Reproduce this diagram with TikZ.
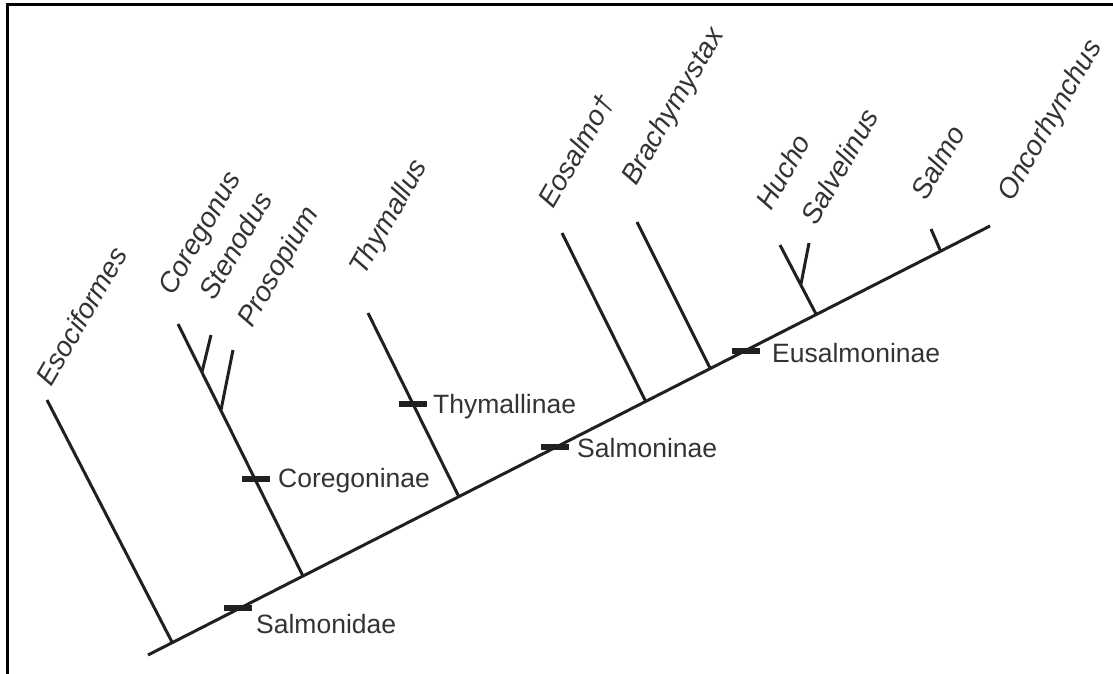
\documentclass[tikz,border=0pt]{standalone}
\usepackage{fontspec}
\setmainfont{Liberation Sans}
\definecolor{ink}{HTML}{231F20}
\definecolor{lbl}{HTML}{333333}
\tikzset{
  frame/.style={draw=black,line width=3pt},
  branch/.style={draw=ink,line width=3pt},
  cladetick/.style={draw=ink,line width=5.5pt},
  taxon/.style={font=\fontsize{28}{32}\selectfont\itshape,text=lbl,rotate=60,anchor=base west,inner sep=0pt},
  clade/.style={font=\fontsize{26.5}{30}\selectfont,text=lbl,anchor=base west,inner sep=0pt}
}

\begin{document}
\begin{tikzpicture}[x=1pt,y=-1pt]
    \useasboundingbox (0,0) rectangle (1113,674);
    \draw[frame] (7,674) -- (7,5) -- (1113,5);

    % backbone
    \coordinate (root) at (148,655);
    \coordinate (apex) at (990,226);
    \draw[branch] (root) -- (apex);

    % junctions and tips
    \coordinate (esoJ) at (172,642);  \coordinate (esoT) at (47,400);
    \coordinate (corJ) at (303,576);  \coordinate (corT) at (178,324);
    \coordinate (steJ) at (202,372);  \coordinate (steT) at (211,335);
    \coordinate (proJ) at (221,410);  \coordinate (proT) at (233,350);
    \coordinate (thyJ) at (459,497);  \coordinate (thyT) at (368,313);
    \coordinate (eosJ) at (646,402);  \coordinate (eosT) at (562,233);
    \coordinate (braJ) at (710,368);  \coordinate (braT) at (637,222);
    \coordinate (hucJ) at (816,314);  \coordinate (hucT) at (780,245);
    \coordinate (salJ) at (801,284);  \coordinate (salT) at (809,243);
    \coordinate (smoJ) at (941,252);  \coordinate (smoT) at (931,229);

    \draw[branch] (esoJ) -- (esoT);
    \draw[branch] (corJ) -- (corT);
    \draw[branch] (steJ) -- (steT);
    \draw[branch] (proJ) -- (proT);
    \draw[branch] (thyJ) -- (thyT);
    \draw[branch] (eosJ) -- (eosT);
    \draw[branch] (braJ) -- (braT);
    \draw[branch] (hucJ) -- (hucT);
    \draw[branch] (salJ) -- (salT);
    \draw[branch] (smoJ) -- (smoT);

    % clade ticks
    \foreach \n/\x/\y in {salmonidae/238/608,coregoninae/256/479,thymallinae/413/404,salmoninae/555/447,eusalmoninae/746/351} {
      \coordinate (\n) at (\x,\y);
      \draw[cladetick] ([xshift=-14pt]\n) -- ([xshift=14pt]\n);
    }

    \node[clade] (lSalmonidae) at (256,633) {Salmonidae};
    \node[clade] (lCoregoninae) at (278,487) {Coregoninae};
    \node[clade] (lThymallinae) at (433,413) {Thymallinae};
    \node[clade] (lSalmoninae) at (577,457) {Salmoninae};
    \node[clade] (lEusalmoninae) at (772,362) {Eusalmoninae};

    \node[taxon] (lEso) at (51,388) {Esociformes};
    \node[taxon] (lCor) at (173,297) {Coregonus};
    \node[taxon] (lSte) at (214,302) {Stenodus};
    \node[taxon] (lPro) at (252,329) {Prosopium};
    \node[taxon] (lThy) at (364,277) {Thymallus};
    \node[taxon] (lEos) at (553,210) {Eosalmo†};
    \node[taxon] (lBra) at (636,187) {Brachymystax};
    \node[taxon] (lHuc) at (771,212) {Hucho};
    \node[taxon] (lSav) at (816,227) {Salvelinus};
    \node[taxon] (lSmo) at (926,202) {Salmo};
    \node[taxon] (lOnc) at (1012,203) {Oncorhynchus};
  \end{tikzpicture}
\end{document}
